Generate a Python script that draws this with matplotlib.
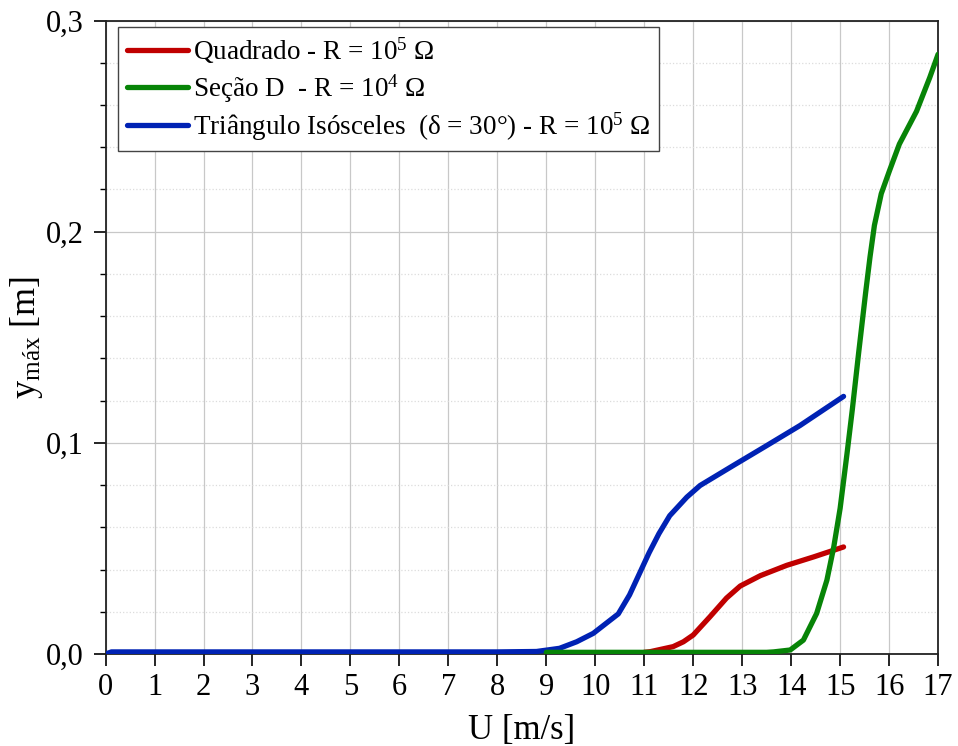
import matplotlib
matplotlib.use("Agg")
import matplotlib.pyplot as plt
from matplotlib.ticker import MultipleLocator, FuncFormatter

plt.rcParams['font.family'] = ['Liberation Serif', 'DejaVu Serif']
plt.rcParams['mathtext.fontset'] = 'custom'
plt.rcParams['mathtext.rm'] = 'Liberation Serif'
plt.rcParams['mathtext.it'] = 'Liberation Serif:italic'

# Quadrado - R = 1e5 ohm
u_quad = [11.0, 11.12, 11.59, 11.8, 12.0, 12.34, 12.68, 12.96, 13.37, 13.91, 14.46, 15.07]
y_quad = [0.0008, 0.0011, 0.0035, 0.0058, 0.0090, 0.0176, 0.0265, 0.0322, 0.0371, 0.0420, 0.0460, 0.0507]

# Secao D - R = 1e4 ohm
u_secd = [9.0, 13.5, 13.64, 13.98, 14.25, 14.52, 14.73, 14.87, 15.0, 15.14, 15.25,
          15.38, 15.52, 15.61, 15.70, 15.84, 16.01, 16.21, 16.56, 16.83, 17.0]
y_secd = [0.0008, 0.0008, 0.0010, 0.0019, 0.0066, 0.0192, 0.0350, 0.0507, 0.0690, 0.0948, 0.1160,
          0.1430, 0.1710, 0.1880, 0.2030, 0.2180, 0.2290, 0.2415, 0.2570, 0.2730, 0.2840]

# Triangulo Isosceles (delta = 30 deg) - R = 1e5 ohm
u_tri = [0.0, 0.12, 8.0, 8.8, 9.27, 9.62, 9.96, 10.47, 10.7, 10.9, 11.1, 11.3, 11.52, 11.87,
         12.14, 12.82, 13.50, 14.18, 15.07]
y_tri = [0.0, 0.0010, 0.0010, 0.0012, 0.0027, 0.0058, 0.0098, 0.0190, 0.0280, 0.0380, 0.0480, 0.0570,
         0.0655, 0.0743, 0.0798, 0.0893, 0.0987, 0.1082, 0.1220]

labels = [r'Quadrado - R = 10$^{5}$ Ω',
          r'Seção D  - R = 10$^{4}$ Ω',
          r'Triângulo Isósceles  (δ = 30°) - R = 10$^{5}$ Ω']
colors = ['#c00000', '#078407', '#0022b4']

x_ticks = list(range(0, 18))
y_ticks = [0.0, 0.1, 0.2, 0.3]

fig = plt.figure(figsize=(9.58, 7.46), dpi=100)
ax = fig.add_axes([0.1102, 0.1233, 0.8690, 0.8492])

lw = 3.8
style = dict(lw=lw, solid_capstyle='round', solid_joinstyle='round')
l1, = ax.plot(u_quad, y_quad, color=colors[0], zorder=3, **style)
l2, = ax.plot(u_secd, y_secd, color=colors[1], zorder=5, **style)
l3, = ax.plot(u_tri, y_tri, color=colors[2], zorder=4, **style)

ax.set_xlim(0, 17)
ax.set_ylim(0, 0.3)
ax.set_xticks(x_ticks)
ax.set_yticks(y_ticks)
ax.yaxis.set_minor_locator(MultipleLocator(0.02))
ax.yaxis.set_major_formatter(FuncFormatter(lambda v, p: f'{v:.1f}'.replace('.', ',')))

ax.grid(True, which='major', color='#c8c8c8', lw=0.9, ls='-')
ax.grid(True, which='minor', axis='y', color='#dcdcdc', lw=0.9, ls=':')
ax.set_axisbelow(True)

ax.tick_params(axis='both', which='major', direction='out', length=8.5, width=1.2,
               labelsize=22, top=False, right=False, colors='black')
ax.tick_params(axis='x', which='major', pad=5)
ax.tick_params(axis='y', which='major', pad=7.5)
ax.tick_params(axis='y', which='minor', direction='out', length=4.3, width=1.0)
for s in ax.spines.values():
    s.set_linewidth(1.3)
    s.set_color('#222222')

ax.set_xlabel('U [m/s]', fontsize=25, labelpad=9)
ax.set_ylabel(r'y$_{\mathrm{máx}}$ [m]', fontsize=26, labelpad=0.5)

leg = ax.legend([l1, l2, l3], labels, loc='upper left', bbox_to_anchor=(0.0155, 0.989),
                fontsize=19.5, frameon=True, fancybox=False, handlelength=2.25,
                handletextpad=0.2, borderpad=0.3, labelspacing=0.22, borderaxespad=0.0)
leg.get_frame().set_edgecolor('#444444')
leg.get_frame().set_linewidth(1.0)
leg.get_frame().set_alpha(1.0)

fig.savefig('out.png', dpi=100)
